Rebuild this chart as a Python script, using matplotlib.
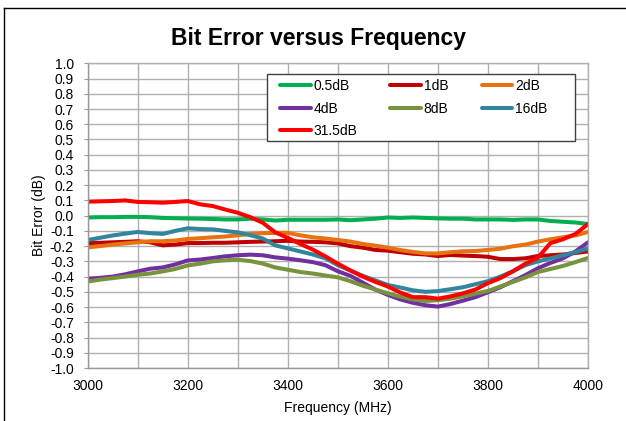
import matplotlib
matplotlib.use("Agg")
import matplotlib.pyplot as plt
from matplotlib.lines import Line2D
from matplotlib.patches import Rectangle

plt.rcParams['font.family'] = ['Liberation Sans', 'DejaVu Sans']

freq = [3000, 3025, 3050, 3075, 3100, 3125, 3150, 3175, 3200, 3225, 3250,
        3275, 3300, 3325, 3350, 3375, 3400, 3425, 3450, 3475, 3500,
        3525, 3550, 3575, 3600, 3625, 3650, 3675, 3700, 3725, 3750,
        3775, 3800, 3825, 3850, 3875, 3900, 3925, 3950, 3975, 4000]

s_05 = [-0.012, -0.010, -0.010, -0.008, -0.008, -0.010, -0.015, -0.017, -0.019, -0.020, -0.022,
        -0.025, -0.025, -0.020, -0.025, -0.032, -0.027, -0.027, -0.027, -0.027, -0.025,
        -0.030, -0.025, -0.020, -0.012, -0.015, -0.012, -0.015, -0.018, -0.020, -0.020,
        -0.025, -0.025, -0.025, -0.028, -0.025, -0.025, -0.035, -0.040, -0.045, -0.055]

s_1 = [-0.180, -0.178, -0.175, -0.172, -0.168, -0.175, -0.195, -0.190, -0.180, -0.180, -0.178,
       -0.178, -0.175, -0.172, -0.170, -0.168, -0.165, -0.170, -0.172, -0.175, -0.182,
       -0.200, -0.210, -0.225, -0.230, -0.240, -0.250, -0.255, -0.265, -0.258, -0.262,
       -0.265, -0.270, -0.285, -0.285, -0.280, -0.265, -0.260, -0.255, -0.245, -0.235]

s_2 = [-0.208, -0.200, -0.190, -0.182, -0.175, -0.168, -0.168, -0.163, -0.153, -0.148, -0.142,
       -0.137, -0.129, -0.120, -0.115, -0.113, -0.113, -0.129, -0.142, -0.150, -0.160,
       -0.170, -0.186, -0.197, -0.210, -0.226, -0.238, -0.248, -0.248, -0.240, -0.234,
       -0.232, -0.225, -0.217, -0.201, -0.190, -0.170, -0.155, -0.142, -0.130, -0.107]

s_4 = [-0.414, -0.408, -0.400, -0.385, -0.366, -0.348, -0.340, -0.320, -0.294, -0.288, -0.278,
       -0.267, -0.260, -0.256, -0.260, -0.274, -0.282, -0.293, -0.305, -0.325, -0.365,
       -0.395, -0.440, -0.485, -0.520, -0.550, -0.572, -0.588, -0.597, -0.580, -0.558,
       -0.535, -0.503, -0.470, -0.430, -0.390, -0.345, -0.310, -0.280, -0.235, -0.175]

s_8 = [-0.432, -0.420, -0.410, -0.400, -0.388, -0.380, -0.366, -0.350, -0.327, -0.315, -0.300,
       -0.293, -0.289, -0.298, -0.315, -0.340, -0.355, -0.370, -0.380, -0.393, -0.405,
       -0.430, -0.460, -0.485, -0.510, -0.532, -0.550, -0.560, -0.555, -0.545, -0.530,
       -0.512, -0.494, -0.465, -0.435, -0.405, -0.370, -0.350, -0.330, -0.305, -0.278]

s_16 = [-0.160, -0.145, -0.130, -0.118, -0.107, -0.115, -0.120, -0.100, -0.083, -0.088, -0.090,
        -0.100, -0.110, -0.128, -0.150, -0.195, -0.215, -0.235, -0.255, -0.280, -0.325,
        -0.360, -0.395, -0.425, -0.455, -0.472, -0.490, -0.500, -0.495, -0.483, -0.470,
        -0.450, -0.430, -0.400, -0.365, -0.325, -0.300, -0.280, -0.260, -0.240, -0.215]

s_315 = [0.092, 0.094, 0.096, 0.100, 0.090, 0.088, 0.085, 0.090, 0.096, 0.074, 0.063,
         0.040, 0.019, -0.010, -0.047, -0.110, -0.146, -0.186, -0.223, -0.267, -0.315,
         -0.360, -0.400, -0.435, -0.465, -0.505, -0.535, -0.535, -0.545, -0.530, -0.510,
         -0.485, -0.443, -0.410, -0.365, -0.315, -0.275, -0.180, -0.155, -0.120, -0.055]

labels = ['0.5dB', '1dB', '2dB', '4dB', '8dB', '16dB', '31.5dB']
series = [s_05, s_1, s_2, s_4, s_8, s_16, s_315]
colors = ['#00B050', '#C00000', '#E8720F', '#7030A0', '#77933C', '#31859C', '#FF0000']

title = 'Bit Error versus Frequency'
xlabel = 'Frequency (MHz)'
ylabel = 'Bit Error (dB)'
xticks = [3000, 3200, 3400, 3600, 3800, 4000]
yticks = [round(-1.0 + 0.1 * i, 1) for i in range(21)]

W, H = 626, 421
fig = plt.figure(figsize=(W / 100, H / 100), dpi=100)
ax = fig.add_axes([87.7 / W, 1 - 368 / H, 500.3 / W, 304.7 / H])

grid_c = '#B0B0B0'
handles = []
for lab, vals, c in zip(labels, series, colors):
    h, = ax.plot(freq, vals, color=c, lw=2.9, label=lab,
                 solid_capstyle='round', solid_joinstyle='round')
    handles.append(h)

ax.set_xlim(3000, 4000)
ax.set_ylim(-1.0, 1.0)
ax.set_xticks(xticks)
ax.set_xticks(range(3000, 4001, 100), minor=True)
ax.set_yticks(yticks)
ax.set_yticklabels(['%.1f' % v for v in yticks])
ax.grid(True, which='both', color=grid_c, lw=1.0)
ax.set_axisbelow(True)
for sp in ax.spines.values():
    sp.set_color(grid_c)
    sp.set_linewidth(1.0)
ax.spines['left'].set_color('#999999')
ax.spines['bottom'].set_color('#999999')
ax.tick_params(axis='x', which='both', length=0, pad=8, labelsize=10)
ax.tick_params(axis='y', length=3, color='#999999', pad=7, labelsize=10)
ax.set_xlabel(xlabel, fontsize=10, labelpad=6)
ax.set_ylabel(ylabel, fontsize=10, labelpad=3)

# legend frame (Excel-style box, wider than the entries)
fig.add_artist(Rectangle((267 / W, 1 - 141 / H), 308 / W, 67 / H,
                         transform=fig.transFigure, facecolor='white',
                         edgecolor='#404040', lw=1.0, zorder=4))

order = [0, 3, 6, 1, 4, 2, 5]
leg = fig.legend([handles[i] for i in order], [labels[i] for i in order],
                 ncol=3, loc='upper left',
                 bbox_to_anchor=(273 / W, 1 - 72 / H), bbox_transform=fig.transFigure,
                 borderaxespad=0, fontsize=10, handlelength=2.2, handletextpad=0.2,
                 columnspacing=2.4, labelspacing=0.62, borderpad=0.5,
                 frameon=False)
leg.set_zorder(5)

fig.text(318 / W, 1 - 45 / H, title, fontsize=16.5, fontweight='bold',
         ha='center', va='baseline')

fig.add_artist(Line2D([4 / W, 4 / W], [0, 1 - 8 / H], transform=fig.transFigure,
                      color='black', lw=1.0))
fig.add_artist(Line2D([4 / W, 1], [1 - 8 / H, 1 - 8 / H], transform=fig.transFigure,
                      color='black', lw=1.0))

fig.savefig('out.png', dpi=100)
